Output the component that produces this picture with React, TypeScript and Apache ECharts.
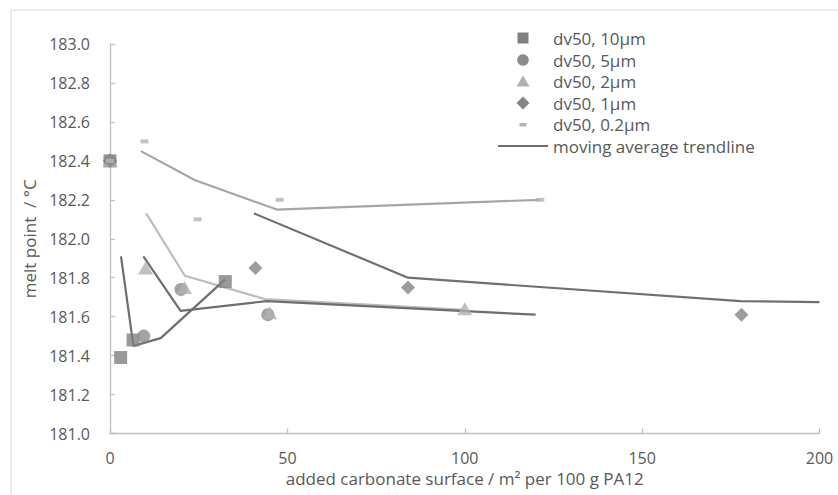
import React, { useEffect, useRef } from "react";
import * as echarts from "echarts";

// Scatter data: [added carbonate surface (m²/100 g), melt point (°C)]
const dv10: number[][] = [[0, 182.4], [3, 181.39], [6.5, 181.48], [32.5, 181.78]];
const dv5: number[][] = [[0, 182.4], [9.5, 181.5], [20, 181.74], [44.5, 181.61]];
const dv2: number[][] = [[0, 182.4], [10, 181.85], [21, 181.75], [45, 181.62], [100, 181.64]];
const dv1: number[][] = [[0, 182.4], [41, 181.85], [84, 181.75], [178, 181.61]];
const dv02: number[][] = [[0, 182.4], [9.7, 182.5], [24.7, 182.1], [47.8, 182.2], [121.3, 182.2]];

// Moving average trendlines
const trend10: number[][] = [[3.1, 181.91], [6.6, 181.45], [14.3, 181.49], [32.4, 181.79]];
const trend5: number[][] = [[9.4, 181.91], [19.9, 181.63], [44.2, 181.68], [120, 181.61]];
const trend2: number[][] = [[10.2, 182.13], [21.1, 181.81], [43.7, 181.69], [100, 181.635]];
const trend1: number[][] = [[40.6, 182.13], [84, 181.8], [177.7, 181.68], [200, 181.675]];
const trend02: number[][] = [[8.7, 182.45], [24, 182.3], [47, 182.15], [121.3, 182.2]];

const legendLabels: string[] = [
  "dv50, 10µm",
  "dv50, 5µm",
  "dv50, 2µm",
  "dv50, 1µm",
  "dv50, 0.2µm",
  "moving average trendline",
];

const FONT = "'Open Sans', sans-serif";
const TXT = "#595959";
const AXIS = "#bfbfbf";

export default function App() {
  const ref = useRef<HTMLDivElement>(null);
  useEffect(() => {
    if (!ref.current) return;
    const chart = echarts.init(ref.current, undefined, { renderer: "svg" });

    const rowY = [38, 60, 81.5, 103, 124.5, 146];
    const mx = 523;
    const legendGraphics: any[] = [
      { type: "rect", shape: { x: mx - 5.5, y: rowY[0] - 5.5, width: 11, height: 11 }, style: { fill: "#808080" } },
      { type: "circle", shape: { cx: mx, cy: rowY[1], r: 5.8 }, style: { fill: "#8c8c8c" } },
      { type: "polygon", shape: { points: [[mx, rowY[2] - 6], [mx + 6.5, rowY[2] + 5], [mx - 6.5, rowY[2] + 5]] }, style: { fill: "#b0b0b0" } },
      { type: "polygon", shape: { points: [[mx, rowY[3] - 6.5], [mx + 6.5, rowY[3]], [mx, rowY[3] + 6.5], [mx - 6.5, rowY[3]]] }, style: { fill: "#858585" } },
      { type: "rect", shape: { x: mx - 3.5, y: rowY[4] - 1.5, width: 7, height: 3.5 }, style: { fill: "#b4b4b4" } },
      { type: "line", shape: { x1: 498, y1: rowY[5], x2: 548, y2: rowY[5] }, style: { stroke: "#6e6e6e", lineWidth: 2.2 } },
      ...legendLabels.map((t, i) => ({
        type: "text",
        x: 553,
        y: rowY[i],
        style: { text: t, fill: TXT, font: `17px ${FONT}`, verticalAlign: "middle", align: "left" },
      })),
    ];

    const trendStyle = (color: string) => ({
      type: "line",
      showSymbol: false,
      symbol: "none",
      lineStyle: { color, width: 2.2 },
      z: 1,
      silent: true,
    });

    chart.setOption({
      animation: false,
      backgroundColor: "#ffffff",
      grid: { left: 110, right: 18.5, top: 44, bottom: 61.5 },
      xAxis: {
        type: "value",
        min: 0,
        max: 200,
        interval: 50,
        name: "added carbonate surface / m² per 100 g PA12",
        nameLocation: "middle",
        nameGap: 34,
        nameTextStyle: { color: TXT, fontFamily: FONT, fontSize: 17 },
        axisLine: { show: true, lineStyle: { color: AXIS, width: 1.3 } },
        axisTick: { show: true, inside: true, length: 5, lineStyle: { color: AXIS, width: 1.3 } },
        axisLabel: { color: TXT, fontFamily: FONT, fontSize: 16, margin: 16 },
        splitLine: { show: false },
      },
      yAxis: {
        type: "value",
        min: 181,
        max: 183,
        interval: 0.2,
        name: "melt point  / °C",
        nameLocation: "middle",
        nameRotate: 90,
        nameGap: 68,
        nameTextStyle: { color: TXT, fontFamily: FONT, fontSize: 17 },
        axisLine: { show: true, lineStyle: { color: AXIS, width: 1.3 } },
        axisTick: { show: true, inside: true, length: 5, lineStyle: { color: AXIS, width: 1.3 } },
        axisLabel: {
          color: TXT,
          fontFamily: FONT,
          fontSize: 16,
          margin: 20,
          formatter: (v: number) => v.toFixed(1),
        },
        splitLine: { show: false },
      },
      graphic: [
        {
          type: "rect",
          shape: { x: 11, y: 10, width: 900, height: 520 },
          style: { fill: "none", stroke: "#d9d9d9", lineWidth: 1 },
          silent: true,
          z: -10,
        },
        ...legendGraphics,
      ],
      series: [
        { ...trendStyle("#a6a6a6"), data: trend02 },
        { ...trendStyle("#bdbdbd"), data: trend2 },
        { ...trendStyle("#6e6e6e"), data: trend10 },
        { ...trendStyle("#6e6e6e"), data: trend5 },
        { ...trendStyle("#707070"), data: trend1 },
        { type: "scatter", name: legendLabels[0], data: dv10, symbol: "rect", symbolSize: 13, itemStyle: { color: "#808080" }, z: 3 },
        { type: "scatter", name: legendLabels[1], data: dv5, symbol: "circle", symbolSize: 13, itemStyle: { color: "#8c8c8c" }, z: 3 },
        { type: "scatter", name: legendLabels[2], data: dv2, symbol: "triangle", symbolSize: [15, 13], itemStyle: { color: "#b0b0b0" }, z: 3 },
        { type: "scatter", name: legendLabels[3], data: dv1, symbol: "diamond", symbolSize: 14, itemStyle: { color: "#858585" }, z: 3 },
        { type: "scatter", name: legendLabels[4], data: dv02, symbol: "rect", symbolSize: [8, 4], itemStyle: { color: "#b4b4b4" }, z: 3 },
      ],
    });
    return () => chart.dispose();
  }, []);
  return <div ref={ref} style={{ width: 838, height: 495, position: "absolute", left: 0, top: 0 }} />;
}
